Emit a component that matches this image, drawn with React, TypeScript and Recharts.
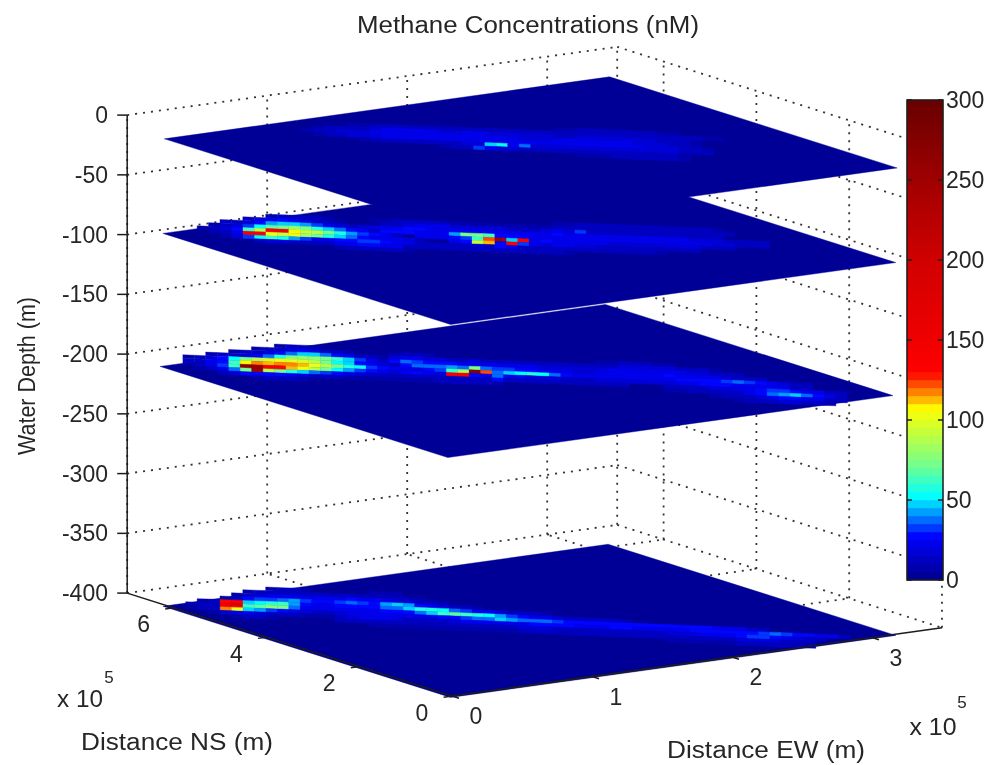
import { ReferenceLine, Scatter, ScatterChart, XAxis, YAxis } from 'recharts';

// Methane concentrations (nM) on four depth slices, MATLAB-style 3D view.
const WIDTH = 994;
const HEIGHT = 765;

type Run = [number, number, number[]]; // [cross-track row, first along-track column, nM values]

const DEPTH_TICKS = [0, -50, -100, -150, -200, -250, -300, -350, -400];
const EW_TICKS = [0, 1, 2, 3];
const NS_TICKS = [0, 2, 4, 6];
const COLORBAR_TICKS = [0, 50, 100, 150, 200, 250, 300];
const COLORBAR_LEVELS = [
  0, 5, 10, 15, 20, 25, 30, 35, 40, 45, 50, 55, 60, 65, 70, 75, 80, 85, 90, 95, 100, 105, 110, 115, 120, 125, 130, 135,
  140, 145, 150, 155, 160, 165, 170, 175, 180, 185, 190, 195, 200, 205, 210, 215, 220, 225, 230, 235, 240, 245, 250,
  255, 260, 265, 270, 275, 280, 285, 290, 295,
];

const SLICE_DEPTHS = [-10, -89, -200, -401];
const SLICE_EW_START = [0, -0.01, -0.03, -0.01];

const SLICE_A: Run[] = [
  [7, 34, [8, 8, 10, 10, 10, 10, 10, 10, 10, 8, 8]],
  [6, 16, [8, 8, 10, 10, 10, 12, 12, 12, 12, 10, 10, 10, 10, 10, 10, 10, 10, 10, 10, 10, 10, 10, 14, 14, 14, 14, 14, 12, 12, 10, 10, 8, 8]],
  [5, 13, [8, 10, 12, 12, 14, 16, 20, 20, 22, 22, 22, 18, 18, 20, 20, 18, 16, 16, 18, 16, 16, 14, 14, 16, 16, 18, 18, 18, 16, 16, 14, 14, 10, 8]],
  [4, 12, [8, 10, 14, 16, 16, 18, 22, 24, 24, 24, 24, 22, 22, 24, 24, 20, 20, 20, 20, 18, 18, 18, 20, 20, 20, 22, 22, 20, 20, 18, 18, 16, 12, 10, 8]],
  [3, 13, [8, 10, 14, 16, 16, 18, 20, 20, 20, 20, 20, 20, 20, 20, 20, 20, 20, 20, 20, 20, 20, 20, 20, 20, 20, 20, 20, 20, 20, 18, 16, 16, 12, 10, 8]],
  [2, 17, [8, 10, 12, 14, 14, 14, 14, 14, 14, 16, 18, 48, 50, 20, 35, 18, 16, 16, 16, 18, 18, 18, 18, 18, 18, 18, 16, 16, 14, 12, 10]],
  [1, 24, [8, 10, 14, 32, 20, 16, 16, 14, 14, 14, 12, 12, 12, 12, 14, 14, 14, 14, 14, 12, 10, 8]],
  [0, 36, [8, 8, 8, 10, 10, 10, 10, 10, 10, 8]],
];

const SLICE_B: Run[] = [
  [7, 34, [8, 8, 10, 10, 10, 10, 10, 10, 10, 10, 10, 10, 10, 10, 8]],
  [6, 18, [8, 8, 10, 10, 10, 10, 10, 8, 8, 8, 8, 8, 8, 8, 8, 8, 10, 12, 12, 12, 14, 14, 14, 14, 14, 14, 14, 14, 14, 12, 12, 10]],
  [6, 9, [8, 10, 12, 12, 10, 8]],
  [5, 7, [10, 16, 24, 28, 24, 16, 12, 10, 8]],
  [5, 19, [12, 14, 18, 20, 20, 20, 18, 18, 18, 18, 18, 14, 14, 14, 18, 20, 18, 30, 14, 14, 12, 12, 12, 14, 14, 14, 14, 12, 12, 10]],
  [4, 17, [18, 20, 22, 24, 25, 25, 24, 24, 24, 22, 22, 22, 22, 22, 22, 22, 24, 26, 20, 20, 20, 20, 20, 20, 22, 22, 22, 20, 20, 18, 18, 18, 14, 14, 12, 10]],
  [4, 5, [10, 12, 18, 28, 40, 45, 45, 40, 32, 24, 18, 14]],
  [3, 4, [8, 12, 18, 32, 50, 65, 72, 78, 70, 55, 45, 38, 28, 20, 12]],
  [3, 19, [26, 26, 26, 24, 24, 24, 40, 70, 72, 60, 26, 28, 25, 24, 22, 22, 22, 22, 22, 22, 22, 22, 20, 20, 20, 20, 20, 20, 20, 18, 18, 14, 14, 12]],
  [2, 3, [8, 12, 16, 28, 60, 85, 135, 140, 105, 90, 85, 70, 55, 40, 32, 28, 20, 14]],
  [2, 22, [20, 20, 22, 26, 30, 60, 120, 250, 45, 130, 22, 26, 20, 20, 20, 20, 20, 18, 18, 18, 18, 18, 18, 18, 18, 14, 14, 12]],
  [1, 4, [8, 14, 24, 135, 130, 100, 90, 100, 80, 70, 55, 45, 35, 26, 22, 20, 20, 18, 12]],
  [1, 25, [20, 26, 90, 110, 28, 130, 30, 20, 18, 20, 20, 18, 18, 14, 14, 14, 14, 12, 12, 12, 12, 10]],
  [0, 5, [8, 16, 30, 50, 60, 55, 42, 30, 24, 20, 26, 28, 30, 30, 26, 24, 20, 14, 12, 10]],
  [0, 25, [12, 14, 18, 14, 26, 20, 14, 12, 12, 12, 12, 12, 12, 12, 10, 10, 10, 10, 8]],
  [-1, 8, [14, 16, 16, 14, 12, 12, 14, 20, 24, 26, 26, 24, 20, 14, 12, 10]],
  [-1, 24, [10, 10, 12, 12, 12, 12, 12, 10, 10, 10, 10, 8]],
  [-2, 15, [8, 10, 12, 12, 12, 10, 8]],
];

const SLICE_C: Run[] = [
  [7, 10, [8, 10, 10, 8]],
  [6, 8, [8, 10, 14, 18, 20, 18, 14, 10, 8]],
  [6, 20, [8, 10, 10, 8]],
  [6, 38, [8, 8, 10, 10, 10, 8, 8]],
  [5, 6, [8, 10, 14, 18, 28, 38, 45, 45, 38, 28, 20, 12, 10, 8]],
  [5, 20, [18, 24, 20, 18, 18, 14, 14, 18, 14, 12, 12, 12, 10, 10, 10, 10, 10, 10, 14, 14, 16, 18, 18, 18, 16, 14, 12, 10, 8]],
  [4, 4, [8, 12, 14, 18, 26, 38, 55, 70, 75, 78, 72, 60, 45, 32, 20, 14]],
  [4, 20, [26, 35, 30, 28, 26, 26, 24, 24, 24, 20, 20, 20, 20, 18, 16, 16, 16, 16, 18, 20, 20, 22, 22, 22, 24, 22, 18, 16, 14, 12, 10]],
  [3, 2, [8, 14, 18, 26, 50, 70, 85, 95, 100, 100, 95, 85, 70, 50, 45, 28, 20, 18, 14]],
  [3, 21, [28, 35, 38, 38, 40, 38, 70, 35, 30, 30, 28, 26, 24, 22, 20, 18, 18, 20, 22, 24, 24, 24, 24, 26, 24, 22, 22, 22, 18, 14, 12, 10]],
  [2, 2, [10, 14, 20, 28, 60, 105, 115, 110, 115, 118, 110, 100, 85, 70, 55, 50, 32, 26, 20, 20, 18]],
  [2, 23, [26, 30, 60, 80, 270, 120, 35, 45, 50, 55, 50, 35, 26, 24, 20, 20, 20, 22, 22, 22, 22, 24, 25, 26, 26, 26, 32, 36, 34, 25, 22, 18, 14, 10]],
  [1, 2, [8, 14, 20, 34, 60, 260, 250, 135, 130, 110, 100, 85, 70, 52, 42, 30, 26, 20, 18, 22, 25, 22, 18]],
  [1, 25, [135, 140, 26, 20, 35, 22, 20, 18, 18, 18, 14, 14, 14, 18, 18, 18, 18, 18, 18, 18, 20, 20, 26, 28, 26, 24, 22, 24, 24, 20, 14, 10]],
  [0, 3, [8, 14, 24, 35, 70, 250, 85, 70, 55, 45, 35, 30, 26, 20, 18, 14, 14, 14, 12, 12, 12, 12, 14, 14, 14, 12, 26, 14, 12, 12, 12, 12, 12, 12, 12, 10, 10, 10]],
  [0, 44, [14, 14, 14, 14, 18, 18, 20, 24, 26, 30, 32, 28, 24, 20, 14, 10]],
  [-1, 5, [12, 18, 26, 28, 28, 25, 20, 18, 14, 12, 10, 8, 8, 8, 8, 8, 8, 8, 8, 10, 10, 10, 10, 10, 8]],
  [-1, 44, [8, 8, 10, 10, 10, 12, 14, 20, 28, 38, 42, 45, 38, 28, 20, 14]],
  [-2, 8, [8, 10, 10, 10, 8]],
  [-2, 48, [8, 10, 12, 14, 16, 22, 26, 28, 24, 20, 14, 10]],
  [-3, 50, [8, 10, 12, 14, 16, 16, 14, 12, 8]],
];

const SLICE_D: Run[] = [
  [6, 9, [8, 10, 10, 8]],
  [6, 18, [8, 8, 8]],
  [5, 7, [8, 10, 12, 14, 14, 12, 10, 10, 12, 14, 14, 12, 10, 10, 8, 8]],
  [4, 6, [8, 12, 16, 20, 22, 24, 22, 20, 20, 24, 26, 24, 20, 20, 18, 16, 12, 10, 8]],
  [3, 5, [8, 14, 26, 32, 32, 38, 42, 30, 26, 26, 30, 35, 30, 28, 40, 45, 42, 28, 22, 18, 14, 10, 8]],
  [2, 3, [8, 12, 130, 140, 45, 50, 55, 60, 40, 28, 24, 24, 26, 26, 26, 28, 35, 38, 48, 55, 58, 50, 38, 30, 24, 20, 18, 14, 12, 10, 8]],
  [1, 2, [8, 12, 14, 150, 160, 60, 65, 75, 72, 38, 24, 20, 20, 20, 20, 20, 24, 25, 26, 28, 35, 48, 60, 68, 62, 55, 52, 42, 30, 26, 24, 20, 18, 14, 14, 12, 12, 10, 8]],
  [0, 2, [8, 10, 12, 115, 100, 45, 40, 30, 28, 24, 18, 14, 14, 18, 20, 24, 24, 20, 20, 20, 22, 24, 26, 26, 30, 35, 38, 45, 42, 35, 36, 35, 32, 28, 26, 26, 26, 25, 26, 25, 25, 25, 25, 25, 26, 25, 24, 20, 20, 14, 12]],
  [-1, 4, [8, 16, 20, 20, 18, 14, 12, 10, 8, 8, 8, 14, 16, 20, 22, 20, 18, 14, 14, 14, 14, 18, 20, 20, 20, 20, 22, 24, 25, 25, 25, 25, 24, 22, 24, 25, 25, 24, 22, 22, 24, 24, 25, 26, 26, 26, 26, 28, 32, 36, 32, 26, 26, 24, 20, 14]],
  [-2, 6, [8, 10, 10, 8]],
  [-2, 15, [10, 12, 12, 12, 12, 12, 12, 12, 12, 12, 12, 12, 12, 14, 14, 14, 16, 16, 16, 14, 14, 14, 14, 14, 14, 14, 14, 14, 14, 16, 16, 18, 20, 20, 24, 28, 32, 30, 26, 22, 18, 14, 10]],
  [-3, 18, [8, 8, 8, 8, 8, 8, 8, 8, 8, 8, 8, 8, 8, 10, 10, 10, 10, 10, 10, 10, 10, 10, 10, 10, 10, 10, 10, 10, 10, 12, 14, 14, 16, 18, 18, 16, 14, 12, 10]],
  [-4, 44, [8, 8, 8, 8, 8, 8, 10, 10, 10, 12, 12, 10, 8]],
];

const SLICES = [SLICE_A, SLICE_B, SLICE_C, SLICE_D];

// axis limits and slice extents, in 1e5 m
const EW_MAX = 3.5;
const NS_MAX = 7;
const SLICE_EW = 3.18;
const SLICE_NS = 6.2;
const COLUMNS = 64;
const ROW_EW = 0.056;
const ROW_NS = 0.17;

type Pt = { x: number; y: number };

function project(ew: number, ns: number, depth: number): Pt {
  return {
    x: 452 + 140 * ew - 46.4 * ns,
    y: 696 - 19.5 * ew - 14.7 * ns - 1.195 * (depth + 400),
  };
}

const COLOR_STOPS: [number, number, number, number][] = [
  [0, 0, 0, 140],
  [27, 0, 0, 255],
  [52, 0, 255, 255],
  [71, 112, 255, 144],
  [107, 255, 255, 0],
  [112, 255, 192, 0],
  [119, 255, 112, 0],
  [125, 255, 48, 0],
  [130, 255, 0, 0],
  [150, 240, 0, 0],
  [200, 208, 0, 0],
  [250, 160, 0, 0],
  [300, 104, 0, 0],
];

function colorFor(value: number) {
  const v = Math.floor(value / 5) * 5 + 2.5;
  for (let i = 1; i < COLOR_STOPS.length; i++) {
    const [v1, r1, g1, b1] = COLOR_STOPS[i];
    const [v0, r0, g0, b0] = COLOR_STOPS[i - 1];
    if (v <= v1) {
      const t = (v - v0) / (v1 - v0);
      return `rgb(${Math.round(r0 + (r1 - r0) * t)},${Math.round(g0 + (g1 - g0) * t)},${Math.round(b0 + (b1 - b0) * t)})`;
    }
  }
  return 'rgb(104,0,0)';
}

type Poly = Pt & { corners: number[][]; fill: string };

function polygonFrom(corners: Pt[], fill: string): Poly {
  const x = corners.reduce((s, p) => s + p.x, 0) / corners.length;
  const y = corners.reduce((s, p) => s + p.y, 0) / corners.length;
  return { x, y, fill, corners: corners.map((p) => [p.x - x, p.y - y]) };
}

function PolygonShape(props: any) {
  const { cx, cy, payload } = props;
  const points = payload.corners.map((c: number[]) => `${cx + c[0]},${cy + c[1]}`).join(' ');
  return <polygon points={points} fill={payload.fill} stroke={payload.fill} strokeWidth={0.4} />;
}

function cellCorner(col: number, row: number, depth: number, ewStart: number) {
  const f = col / COLUMNS;
  return project(ewStart + SLICE_EW * f + ROW_EW * row, SLICE_NS * (1 - f) + ROW_NS * row, depth);
}

function sliceCells(runs: Run[], depth: number, ewStart: number): Poly[] {
  const cells: Poly[] = [];
  runs.forEach(([row, first, values]) => {
    values.forEach((value, i) => {
      const c = first + i;
      cells.push(
        polygonFrom(
          [
            cellCorner(c, row - 0.5, depth, ewStart),
            cellCorner(c + 1, row - 0.5, depth, ewStart),
            cellCorner(c + 1, row + 0.5, depth, ewStart),
            cellCorner(c, row + 0.5, depth, ewStart),
          ],
          colorFor(value),
        ),
      );
    });
  });
  return cells;
}

function slicePlane(depth: number, ewStart: number): Poly[] {
  return [
    polygonFrom(
      [
        project(ewStart, 0, depth),
        project(ewStart + SLICE_EW, 0, depth),
        project(ewStart + SLICE_EW, SLICE_NS, depth),
        project(ewStart, SLICE_NS, depth),
      ],
      colorFor(0),
    ),
  ];
}

// colourbar: value axis runs 0 at y=580 to 300 at y=100
const barY = (v: number) => 580 - 1.6 * v;
const BAR_LEFT = 907;
const BAR_RIGHT = 943;

const colorbarCells = COLORBAR_LEVELS.map((lvl) =>
  polygonFrom(
    [
      { x: BAR_LEFT, y: barY(lvl) },
      { x: BAR_RIGHT, y: barY(lvl) },
      { x: BAR_RIGHT, y: barY(lvl + 5) },
      { x: BAR_LEFT, y: barY(lvl + 5) },
    ],
    colorFor(lvl),
  ),
);

function ColorbarFrame(props: any) {
  const { cx, cy } = props;
  const left = cx - (BAR_RIGHT - BAR_LEFT) / 2;
  const right = cx + (BAR_RIGHT - BAR_LEFT) / 2;
  const bottom = cy + 240;
  return (
    <g stroke="#1c1c1c" fill="none" strokeWidth={1.5}>
      <rect x={left} y={cy - 240} width={right - left} height={480} />
      {COLORBAR_TICKS.map((t) => (
        <g key={t}>
          <line x1={left} x2={left + 5} y1={bottom - 1.6 * t} y2={bottom - 1.6 * t} />
          <line x1={right - 5} x2={right} y1={bottom - 1.6 * t} y2={bottom - 1.6 * t} />
        </g>
      ))}
    </g>
  );
}

const FONT = '"Liberation Sans", Arial, sans-serif';
const TEXT_FILL = '#262626';

type Label = Pt & { text: string; anchor?: string; size?: number; length?: number; rotate?: number };

function TextShape(props: any) {
  const { cx, cy, payload } = props;
  const p = payload as Label;
  return (
    <text
      x={cx}
      y={cy}
      textAnchor={p.anchor ?? 'middle'}
      dominantBaseline="central"
      fontFamily={FONT}
      fontSize={p.size ?? 23}
      fill={TEXT_FILL}
      textLength={p.length}
      lengthAdjust={p.length ? 'spacingAndGlyphs' : undefined}
      transform={p.rotate ? `rotate(${p.rotate} ${cx} ${cy})` : undefined}
    >
      {p.text}
    </text>
  );
}

const labels: Label[] = [
  { x: 528, y: 25, text: 'Methane Concentrations (nM)', length: 342 },
  { x: 27, y: 376, text: 'Water Depth (m)', rotate: -90, length: 158 },
  { x: 177, y: 742, text: 'Distance NS (m)', length: 192 },
  { x: 766, y: 750, text: 'Distance EW (m)', length: 198 },
  { x: 80, y: 699, text: 'x 10', length: 46 },
  { x: 109, y: 677, text: '5', size: 17 },
  { x: 933, y: 727, text: 'x 10', length: 47 },
  { x: 962, y: 702, text: '5', size: 17 },
  ...DEPTH_TICKS.map((d) => ({ x: 108, y: project(0, NS_MAX, d).y, text: String(d), anchor: 'end' })),
  ...EW_TICKS.map((t) => {
    const p = project(t, 0, -400);
    return { x: p.x + 24, y: p.y + 20, text: String(t) };
  }),
  ...NS_TICKS.map((t) => {
    const p = project(0, t, -400);
    return { x: p.x - 30, y: p.y + 16.5, text: String(t) };
  }),
  ...COLORBAR_TICKS.map((t) => ({ x: 946, y: barY(t), text: String(t), anchor: 'start' })),
];

// back walls and floor grid
const gridSegments: [Pt, Pt][] = [
  ...DEPTH_TICKS.flatMap((d): [Pt, Pt][] => [
    [project(0, NS_MAX, d), project(EW_MAX, NS_MAX, d)],
    [project(EW_MAX, NS_MAX, d), project(EW_MAX, 0, d)],
  ]),
  ...[...EW_TICKS, EW_MAX].map((t): [Pt, Pt] => [project(t, NS_MAX, -400), project(t, NS_MAX, 0)]),
  ...NS_TICKS.map((t): [Pt, Pt] => [project(EW_MAX, t, -400), project(EW_MAX, t, 0)]),
  ...EW_TICKS.slice(1).map((t): [Pt, Pt] => [project(t, 0, -400), project(t, NS_MAX, -400)]),
  ...NS_TICKS.slice(1).map((t): [Pt, Pt] => [project(0, t, -400), project(EW_MAX, t, -400)]),
];

const axisLines: [Pt, Pt][] = [
  [project(0, NS_MAX, 0), project(0, NS_MAX, -400)],
  [project(0, NS_MAX, -400), project(0, 0, -400)],
  [project(0, 0, -400), project(EW_MAX, 0, -400)],
  ...DEPTH_TICKS.map((d): [Pt, Pt] => {
    const p = project(0, NS_MAX, d);
    return [{ x: p.x - 10, y: p.y }, p];
  }),
  ...EW_TICKS.map((t): [Pt, Pt] => [project(t, 0, -400), project(t, -0.15, -400)]),
  ...NS_TICKS.map((t): [Pt, Pt] => [project(0, t, -400), project(-0.06, t, -400)]),
];

const noDot = () => <g />;

export default function App() {
  return (
    <div style={{ position: 'absolute', left: 0, top: 0, width: WIDTH, height: HEIGHT, background: '#fff', filter: 'blur(0.7px)' }}>
      <ScatterChart width={WIDTH} height={HEIGHT} margin={{ top: 0, right: 0, bottom: 0, left: 0 }}>
        <XAxis type="number" dataKey="x" domain={[0, WIDTH]} hide />
        <YAxis type="number" dataKey="y" domain={[0, HEIGHT]} reversed hide />
        {gridSegments.map(([a, b], i) => (
          <ReferenceLine
            key={i}
            segment={[a, b]}
            stroke="#333"
            strokeWidth={1.8}
            strokeDasharray="2 6"
            ifOverflow="visible"
          />
        ))}
        {SLICES.flatMap((runs, i) => [
          <Scatter key={`plane${i}`} data={slicePlane(SLICE_DEPTHS[i], SLICE_EW_START[i])} shape={PolygonShape} isAnimationActive={false} />,
          <Scatter key={`cells${i}`} data={sliceCells(runs, SLICE_DEPTHS[i], SLICE_EW_START[i])} shape={PolygonShape} isAnimationActive={false} />,
        ])}
        {axisLines.map(([a, b], i) => (
          <Scatter
            key={`axis${i}`}
            data={[a, b]}
            shape={noDot}
            line={{ stroke: '#1c1c1c', strokeWidth: 1.5 }}
            isAnimationActive={false}
          />
        ))}
        <Scatter data={colorbarCells} shape={PolygonShape} isAnimationActive={false} />
        <Scatter
          data={[{ x: (BAR_LEFT + BAR_RIGHT) / 2, y: barY(150) }]}
          shape={ColorbarFrame}
          isAnimationActive={false}
        />
        <Scatter data={labels} shape={TextShape} isAnimationActive={false} />
      </ScatterChart>
    </div>
  );
}
